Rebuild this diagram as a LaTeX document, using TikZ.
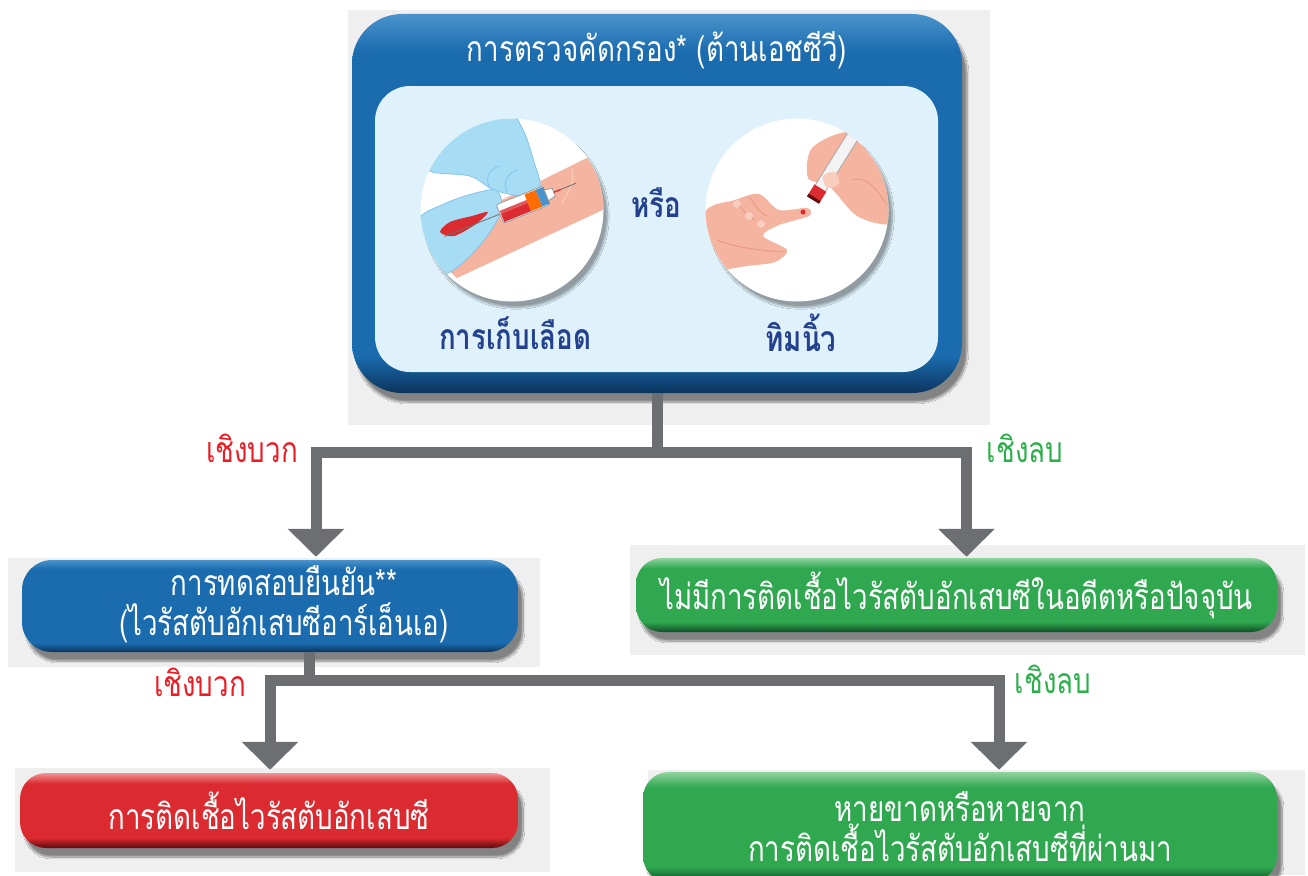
\documentclass[tikz,border=0pt]{standalone}
\usepackage{fontspec}
\newfontfamily\thaifont[Script=Thai,FakeStretch=0.78]{Loma}
\usetikzlibrary{arrows,arrows.meta,shadows.blur}

\definecolor{bluemain}{HTML}{1A6CAF}
\definecolor{bluelight}{HTML}{4A93CC}
\definecolor{bluedark}{HTML}{0B355E}
\definecolor{innerblue}{HTML}{DFF1FA}
\definecolor{textblue}{HTML}{24418F}
\definecolor{greenmain}{HTML}{2FA84F}
\definecolor{greenlight}{HTML}{8FD39D}
\definecolor{greendark}{HTML}{124D26}
\definecolor{redmain}{HTML}{DC2B30}
\definecolor{redlight}{HTML}{F09396}
\definecolor{reddark}{HTML}{5E0B0E}
\definecolor{linegray}{HTML}{6D6E71}
\definecolor{panelgray}{HTML}{EFEFEF}
\definecolor{posred}{HTML}{EC1C24}
\definecolor{neggreen}{HTML}{2DB04B}
\definecolor{skin}{HTML}{F5B4A0}
\definecolor{skinlight}{HTML}{F9CDBE}
\definecolor{skindark}{HTML}{E8967F}
\definecolor{glove}{HTML}{A7DCF5}
\definecolor{gloveline}{HTML}{83C4EA}

\pgfdeclareverticalshading{blueshade}{100bp}{color(0bp)=(bluedark); color(25bp)=(bluedark); color(30bp)=(bluemain); color(70bp)=(bluemain); color(75bp)=(bluelight); color(100bp)=(bluelight)}
\pgfdeclareverticalshading{greenshade}{100bp}{color(0bp)=(greendark); color(25bp)=(greendark); color(32bp)=(greenmain); color(68bp)=(greenmain); color(75bp)=(greenlight); color(100bp)=(greenlight)}
\pgfdeclareverticalshading{redshade}{100bp}{color(0bp)=(reddark); color(25bp)=(reddark); color(32bp)=(redmain); color(68bp)=(redmain); color(75bp)=(redlight); color(100bp)=(redlight)}

\tikzset{
  thai/.style={font=\thaifont\fontsize{35.5}{40}\selectfont},
  boxshadow/.style={blur shadow={shadow xshift=5pt, shadow yshift=-9pt, shadow blur steps=12, shadow opacity=45}},
  bluebox/.style={thai, shading=blueshade, text=white, rounded corners=30pt, boxshadow, align=center, inner sep=0pt},
  greenbox/.style={thai, shading=greenshade, text=white, rounded corners=26pt, boxshadow, align=center, inner sep=0pt},
  redbox/.style={thai, shading=redshade, text=white, rounded corners=26pt, boxshadow, align=center, inner sep=0pt},
  panel/.style={fill=panelgray},
  link/.style={draw=linegray, line width=11pt},
  flow/.style={link, -{Triangle[width=55pt,length=28pt]}},
  poslabel/.style={thai, text=posred},
  neglabel/.style={thai, text=neggreen},
  picture/.style={circle, fill=white, minimum size=183pt, inner sep=0pt, blur shadow={shadow xshift=4pt, shadow yshift=-6pt, shadow blur steps=8, shadow opacity=35}},
  caption/.style={text=textblue, font=\thaifont\bfseries\fontsize{35.5}{40}\selectfont}
}

\begin{document}
\begin{tikzpicture}[x=1pt, y=-1pt]

\useasboundingbox (0,0) rectangle (1308,875);
\fill[white] (0,0) rectangle (1308,875);

\fill[panel] (348,10) rectangle (990,425);
\fill[panel] (8,558) rectangle (540,667);
\fill[panel] (630,545) rectangle (1305,655);
\fill[panel] (15,768) rectangle (550,872);
\fill[panel] (648,770) rectangle (1305,875);

\node[bluebox, rounded corners=50pt, minimum width=610pt, minimum height=379pt] (screen) at (657,203.5) {};
\node[thai, text=white] (title) at (657,50) {การตรวจคัดกรอง* (ต้านเอชซีวี)};
\node[fill=innerblue, rounded corners=35pt, minimum width=563pt, minimum height=286pt] (inner) at (656.5,229) {};

\node[picture] (venous) at (512,210) {};
\node[picture] (finger) at (797,210) {};

\begin{scope}[shift={(512,210)}]
  \clip (0,0) circle [radius=91.5pt];
  \fill[skin] (-95,32) -- (95,-62) -- (95,-2) -- (-55,68) -- cycle;
  \draw[skinlight, line width=1pt] (50,-8) .. controls (58,-18) and (62,-30) .. (60,-42);
  \filldraw[fill=glove, draw=gloveline, line width=0.8pt] plot[smooth cycle] coordinates {(-85,-50) (-45,-85) (-5,-100) (12,-78) (22,-48) (28,-24) (12,-14) (-18,-20) (-42,-34) (-80,-38)};
  \draw[gloveline, line width=0.8pt] (-22,-22) .. controls (-28,-32) and (-22,-42) .. (-12,-44);
  \draw[gloveline, line width=0.8pt] (-5,-18) .. controls (-10,-28) and (-4,-38) .. (6,-40);
  \filldraw[fill=glove, draw=gloveline, line width=0.8pt] plot[smooth cycle] coordinates {(-95,12) (-68,-6) (-40,-16) (-16,-20) (-10,-4) (-18,16) (-38,42) (-62,62) (-95,70)};
  \fill[redmain] plot[smooth cycle] coordinates {(-72,22) (-62,12) (-40,6) (-24,2) (-36,14) (-58,26)};
  \begin{scope}[shift={(-12,4)}, rotate=22]
    \draw[linegray, line width=0.8pt] (-60,0) -- (0,0);
    \filldraw[fill=white, draw=linegray!70, line width=0.8pt, rounded corners=2pt] (0,-10) rectangle (50,10);
    \fill[redmain] (1,0) rectangle (30,9);
    \fill[redmain!80] (1,-3) rectangle (30,0);
    \fill[orange!85!red] (30,-9) rectangle (42,9);
    \fill[bluelight] (42,-9) rectangle (50,9);
    \filldraw[fill=white, draw=linegray!70, line width=0.8pt] (50,-6) -- (58,-4) -- (58,4) -- (50,6) -- cycle;
    \draw[linegray, line width=0.8pt] (58,0) -- (82,0);
    \draw[redmain, line width=1.2pt] (58,0) -- (66,0);
  \end{scope}
\end{scope}

\begin{scope}[shift={(797,210)}]
  \clip (0,0) circle [radius=91.5pt];
  \fill[skin] plot[smooth cycle] coordinates {(15,-62) (51,-78) (85,-58) (96,-10) (93,14) (60,6) (32,-24) (11,-32)};
  \draw[skindark, line width=0.8pt] (55,-30) .. controls (70,-35) and (80,-20) .. (90,-5);
  \fill[skin] plot[smooth cycle] coordinates {(-92,2) (-62,-10) (-38,-16) (-18,0) (10,-2) (12,6) (-18,15) (-34,26) (-10,40) (-22,52) (-50,56) (-78,60) (-95,56)};
  \draw[skindark, line width=0.8pt] (-62,-10) .. controls (-55,0) and (-50,5) .. (-42,10);
  \draw[skindark, line width=0.8pt] (-48,-14) .. controls (-42,-4) and (-38,2) .. (-30,6);
  \draw[skindark, line width=0.8pt] (-80,30) .. controls (-60,38) and (-40,40) .. (-12,42);
  \fill[skinlight] (-60,-6) circle [radius=4pt];
  \fill[skinlight] (-48,6) circle [radius=4pt];
  \fill[skinlight] (-36,14) circle [radius=4pt];
  \begin{scope}[shift={(16,-10)}, rotate=58]
    \filldraw[fill=white!92!linegray, draw=linegray!60, line width=0.8pt] (8,-6) rectangle (85,6);
    \fill[redmain] (0,-7) rectangle (14,7);
    \fill[reddark] (0,-7) rectangle (3,7);
  \end{scope}
  \fill[skinlight] plot[smooth cycle] coordinates {(26,-34) (38,-38) (42,-26) (30,-22)};
  \fill[redmain] (6,2) circle [radius=2.5pt];
\end{scope}

\node[caption] (or) at (656,203) {หรือ};
\node[caption] (venouscap) at (515,333) {การเก็บเลือด};
\node[caption] (fingercap) at (801,333) {ทิมนิ้ว};

\node[bluebox, minimum width=496pt, minimum height=92pt] (confirm) at (270,606) {};
\node[thai, text=white, align=center] (confirmtext) at (284,604) {การทดสอบยืนยัน**\\(ไวรัสตับอักเสบซีอาร์เอ็นเอ)};
\node[greenbox, minimum width=641pt, minimum height=74pt] (noinf) at (956.5,595) {ไม่มีการติดเชื้อไวรัสตับอักเสบซีในอดีตหรือปัจจุบัน};
\node[redbox, minimum width=498pt, minimum height=75pt] (inf) at (269,810.5) {การติดเชื้อไวรัสตับอักเสบซี};
\node[greenbox, minimum width=634pt, minimum height=110pt] (cured) at (960,827) {หายขาดหรือหายจาก\\การติดเชื้อไวรัสตับอักเสบซีที่ผ่านมา};

\coordinate (split1) at (657,452);
\coordinate (split2) at (309,680);
\draw[link] (screen.south) -- (split1);
\draw[flow] (split1) -| ([xshift=46pt, yshift=3pt]confirm.north);
\draw[flow] (split1) -| ([xshift=10pt, yshift=1pt]noinf.north);
\draw[link] ([xshift=39pt]confirm.south) -- (split2);
\draw[flow] (split2) -| ([xshift=1pt, yshift=3pt]inf.north);
\draw[flow] (split2) -| ([xshift=39pt, yshift=2pt]cured.north);

\node[poslabel] (pos1) at (252,448) {เชิงบวก};
\node[neglabel] (neg1) at (1025,448) {เชิงลบ};
\node[poslabel] (pos2) at (200,682) {เชิงบวก};
\node[neglabel] (neg2) at (1053,679) {เชิงลบ};

\end{tikzpicture}
\end{document}
